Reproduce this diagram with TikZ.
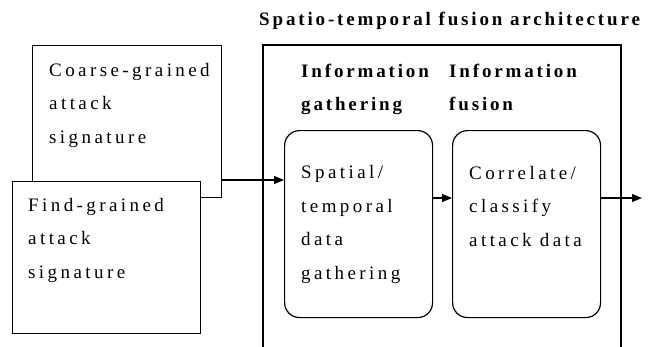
\documentclass[tikz,border=0pt]{standalone}
\usepackage{fontspec}
\setmainfont{Liberation Serif}
\newfontfamily\spaced[LetterSpace=18]{Liberation Serif}
\newfontfamily\spacedbf[LetterSpace=15]{Liberation Serif Bold}
\usetikzlibrary{arrows.meta}
\begin{document}
\begin{tikzpicture}[x=1pt,y=-1pt,
  box/.style={draw,line width=1.2pt,anchor=north west,inner sep=0pt},
  rbox/.style={draw,line width=1.2pt,rounded corners=15pt,anchor=north west,inner sep=0pt},
  txt/.style={anchor=base west,inner sep=0pt,align=left,font=\fontsize{19}{33.5}\spaced},
  hdr/.style={anchor=base west,inner sep=0pt,align=left,font=\fontsize{19}{33}\spacedbf},
  arr/.style={line width=1.2pt,-{Triangle[length=10pt,width=8pt]}}]
\useasboundingbox (0,0) rectangle (657,346);
% left boxes
\node[box,minimum width=189pt,minimum height=152pt] (coarse) at (32,45) {};
\node[box,fill=white,minimum width=188pt,minimum height=152pt] (fine) at (12,181) {};
% multi-line nodes: base anchor = baseline of last line
\node[txt] (coarsetxt) at (49,143) {Coarse-grained\\attack\\signature};
\node[txt] (finetxt) at (28,278) {Find-grained\\attack\\signature};
% big box
\coordinate (bbl) at (263,350);
\coordinate (bbr) at (621,350);
\draw[line width=1.2pt] (bbl) -- (263,45) -- (621,45) -- (bbr);
\node[hdr] (title) at (259,25) {Spatio-temporal fusion architecture};
\node[hdr] (h1) at (301,110) {Information\\gathering};
\node[hdr] (h2) at (449,110) {Information\\fusion};
% rounded boxes
\node[rbox,minimum width=148pt,minimum height=187pt] (g) at (284,130) {};
\node[rbox,minimum width=148pt,minimum height=187pt] (f) at (452,130) {};
\node[txt] (gtxt) at (301,279) {Spatial/\\temporal\\data\\gathering};
\node[txt] (ftxt) at (469,246) {Correlate/\\classify\\attack data};
% arrows
\coordinate (out) at (642,198);
\draw[arr] (coarse.east |- 0,180) -- (g.west |- 0,180);
\draw[arr] (g.east |- 0,198) -- (f.west |- 0,198);
\draw[arr] (f.east |- 0,198) -- (out);
\end{tikzpicture}
\end{document}
